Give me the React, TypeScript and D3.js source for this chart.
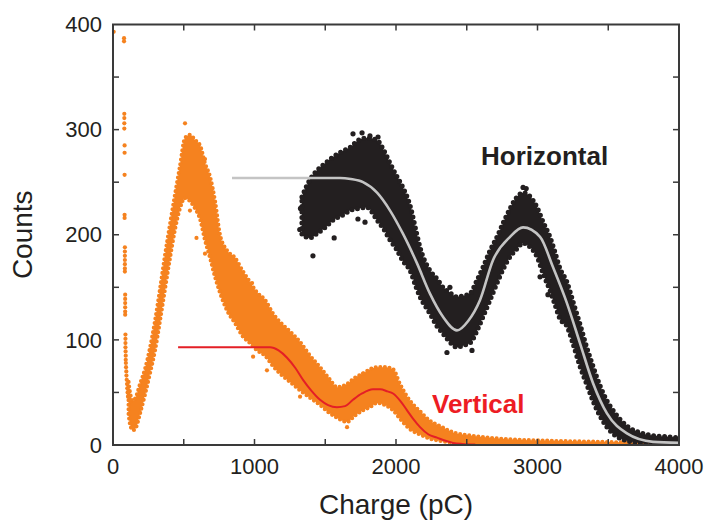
import React from 'react';
import * as d3 from 'd3';

// ---------- data ----------
// Vertical (orange) cloud: charge positions and lower / upper envelope of the scatter
const vChargeBand = [110, 120, 141, 160, 191, 226, 261, 297, 332, 367, 403, 438, 473, 509, 544, 580, 615, 650, 686, 721, 756, 806, 862, 919, 968, 1018, 1074, 1131, 1180, 1251, 1322, 1392, 1463, 1534, 1583, 1654, 1710, 1767, 1816, 1866, 1922, 1979, 2028, 2099, 2170, 2240, 2311, 2403, 2523, 2735, 3088, 3442, 3795, 4000];
const vLow = [30, 20, 14, 16, 30, 48, 68, 90, 118, 148, 178, 205, 225, 235, 232, 225, 215, 195, 178, 160, 145, 128, 116, 103, 97, 90, 85, 75, 68, 60, 52, 45, 38, 30, 26, 22, 28, 33, 36, 40, 38, 33, 25, 15, 10, 6, 4, 2, 1, 0, 0, 0, 0, 0];
const vHigh = [60, 50, 42, 45, 58, 72, 92, 118, 148, 180, 210, 238, 265, 292, 295, 290, 285, 268, 255, 232, 200, 185, 178, 165, 155, 145, 138, 125, 117, 108, 98, 85, 74, 62, 55, 58, 64, 68, 72, 74, 74, 72, 58, 42, 32, 23, 18, 12, 9, 6, 4, 3, 2, 2];
// isolated orange points (sparse column near zero charge and stray points)
const vPointCharge = [5, 78, 78, 80, 80, 80, 80, 82, 82, 82, 82, 82, 84, 84, 84, 84, 84, 84, 84, 86, 86, 86, 86, 86, 86, 88, 88, 88, 88, 89, 90, 90, 91, 92, 94, 95, 97, 99, 101, 103, 106, 509, 544, 590, 650, 650, 983, 990, 1088, 1322, 1654, 1767];
const vPointCounts = [393, 387, 384, 315, 311, 306, 301, 285, 278, 257, 219, 216, 188, 184, 180, 176, 172, 168, 165, 143, 139, 135, 131, 127, 124, 105, 101, 97, 93, 89, 85, 81, 78, 74, 70, 66, 62, 58, 54, 50, 46, 306, 223, 197, 182, 272, 154, 84, 71, 46, 17, 68];

// Horizontal (black) cloud
const hChargeBand = [1335, 1390, 1441, 1500, 1555, 1615, 1675, 1735, 1795, 1866, 1915, 1958, 2000, 2049, 2099, 2148, 2170, 2240, 2290, 2332, 2380, 2431, 2480, 2523, 2570, 2615, 2665, 2714, 2760, 2806, 2850, 2898, 2950, 2997, 3040, 3088, 3120, 3159, 3208, 3254, 3300, 3350, 3392, 3440, 3491, 3550, 3632, 3720, 3816, 3900, 4000];
const hLow = [200, 197, 201, 207, 214, 218, 223, 225, 226, 214, 205, 195, 187, 175, 166, 148, 141, 125, 113, 106, 98, 93, 95, 97, 108, 122, 138, 154, 168, 179, 186, 192, 188, 179, 163, 147, 135, 120, 113, 95, 75, 57, 42, 28, 17, 9, 4, 2, 1, 0, 0];
const hHigh = [236, 252, 261, 268, 274, 279, 283, 290, 292, 290, 280, 268, 257, 245, 228, 200, 188, 166, 158, 150, 145, 141, 142, 144, 156, 169, 185, 198, 212, 225, 235, 240, 236, 226, 212, 198, 185, 168, 155, 135, 115, 92, 75, 57, 42, 30, 18, 12, 9, 8, 7];
const hPointCharge = [1320, 1325, 1413, 1563, 1731, 1781, 1696, 1760, 1816, 1873, 2360, 2381, 2537, 2898, 2920, 3018, 3074];
const hPointCounts = [205, 225, 180, 197, 215, 212, 296, 297, 294, 293, 88, 150, 90, 245, 244, 160, 143];

// fitted curves
const vFitCharge = [460, 700, 1000, 1110, 1170, 1230, 1290, 1343, 1400, 1463, 1520, 1583, 1640, 1696, 1760, 1837, 1887, 1940, 1979, 2030, 2078, 2120, 2170, 2230, 2290, 2350, 2403, 2470, 2560];
const vFitCounts = [93, 93, 93, 93, 90, 83, 73, 62, 52, 43, 38, 36, 37, 43, 49, 53, 53, 51, 49, 42, 33, 25, 17, 10, 7, 4, 2, 1, 0.5];
const hFitCharge = [841, 1200, 1500, 1604, 1680, 1767, 1866, 1958, 2049, 2148, 2240, 2332, 2431, 2510, 2594, 2686, 2806, 2898, 3018, 3110, 3208, 3300, 3392, 3491, 3632, 3816, 4000];
const hFitCounts = [254, 254, 254, 254, 253, 250, 240, 223, 201, 173, 144, 122, 109, 118, 138, 176, 198, 207, 198, 169, 135, 97, 59, 30, 11, 3, 2];

const xTickValues = [0, 1000, 2000, 3000, 4000];
const yTickValues = [0, 100, 200, 300, 400];
const xTickLabels = ['0', '1000', '2000', '3000', '4000'];
const yTickLabels = ['0', '100', '200', '300', '400'];

// ---------- layout ----------
const W = 706;
const H = 520;
const left = 113;
const right = 679;
const top = 24.5;
const bottom = 445;

const ORANGE = '#f5821f';
const BLACK = '#231f20';
const RED = '#e41f26';
const GREY = '#c4c4c4';
const AXIS = '#3a3a3a';
const FONT = "'Liberation Sans', Arial, Helvetica, sans-serif";

export default function App() {
  const x = d3.scaleLinear().domain([0, 4000]).range([left, right]);
  const y = d3.scaleLinear().domain([0, 400]).range([bottom, top]);

  const band = (xs: number[], lo: number[], hi: number[]) =>
    d3
      .area<number>()
      .x((_, i) => x(xs[i]))
      .y0((_, i) => y(lo[i]))
      .y1((_, i) => y(hi[i]))
      .curve(d3.curveMonotoneX)(xs) as string;

  const line = (xs: number[], ys: number[]) =>
    d3
      .line<number>()
      .x((_, i) => x(xs[i]))
      .y((_, i) => y(ys[i]))
      .curve(d3.curveMonotoneX)(xs) as string;

  const vBand = band(vChargeBand, vLow, vHigh);
  const hBand = band(hChargeBand, hLow, hHigh);
  const vFit = line(vFitCharge, vFitCounts);
  const hFit = line(hFitCharge, hFitCounts);

  const xMinor = d3.range(500, 4000, 500);
  const yMinor = d3.range(50, 400, 50);
  const tickLen = 6;

  return (
    <svg
      width={W}
      height={H}
      style={{ position: 'absolute', left: 0, top: 0, background: '#fff' }}
      fontFamily={FONT}
    >
      <rect x={0} y={0} width={W} height={H} fill="#fff" />
      <defs>
        <clipPath id="plot">
          <rect x={left} y={top - 20} width={right - left} height={bottom - top + 20} />
        </clipPath>
      </defs>

      <g clipPath="url(#plot)">
        {/* vertical (orange) scatter */}
        <path d={vBand} fill={ORANGE} />
        <path
          d={vBand}
          fill="none"
          stroke={ORANGE}
          strokeWidth={4.2}
          strokeLinecap="round"
          strokeDasharray="0 4.6"
        />
        {vPointCharge.map((c, i) => (
          <circle key={'vp' + i} cx={x(c)} cy={y(vPointCounts[i])} r={2.1} fill={ORANGE} />
        ))}

        {/* horizontal (black) scatter */}
        <path d={hBand} fill={BLACK} />
        <path
          d={hBand}
          fill="none"
          stroke={BLACK}
          strokeWidth={5}
          strokeLinecap="round"
          strokeDasharray="0 5.5"
        />
        {hPointCharge.map((c, i) => (
          <circle key={'hp' + i} cx={x(c)} cy={y(hPointCounts[i])} r={2.6} fill={BLACK} />
        ))}

        {/* fits */}
        <path d={vFit} fill="none" stroke={RED} strokeWidth={2} />
        <path d={hFit} fill="none" stroke={GREY} strokeWidth={2.6} />
      </g>

      {/* frame */}
      <rect x={left} y={top} width={right - left} height={bottom - top} fill="none" stroke={AXIS} strokeWidth={2} />
      {xMinor.map((v) => (
        <g key={'xt' + v}>
          <line x1={x(v)} x2={x(v)} y1={bottom} y2={bottom - tickLen} stroke={AXIS} strokeWidth={1.5} />
          <line x1={x(v)} x2={x(v)} y1={top} y2={top + tickLen} stroke={AXIS} strokeWidth={1.5} />
        </g>
      ))}
      {yMinor.map((v) => (
        <g key={'yt' + v}>
          <line x1={left} x2={left + tickLen} y1={y(v)} y2={y(v)} stroke={AXIS} strokeWidth={1.5} />
          <line x1={right} x2={right - tickLen} y1={y(v)} y2={y(v)} stroke={AXIS} strokeWidth={1.5} />
        </g>
      ))}

      {/* tick labels */}
      {xTickValues.map((v, i) => (
        <text key={'xl' + v} x={x(v)} y={474} textAnchor="middle" fontSize={22} fill={BLACK}>
          {xTickLabels[i]}
        </text>
      ))}
      {yTickValues.map((v, i) => (
        <text key={'yl' + v} x={102} y={y(v)} dy="0.35em" textAnchor="end" fontSize={22} fill={BLACK}>
          {yTickLabels[i]}
        </text>
      ))}

      {/* axis titles */}
      <text x={(left + right) / 2} y={514} textAnchor="middle" fontSize={28} fill={BLACK}>
        Charge (pC)
      </text>
      <text
        transform={`translate(32, ${(top + bottom) / 2}) rotate(-90)`}
        textAnchor="middle"
        fontSize={28}
        fill={BLACK}
      >
        Counts
      </text>

      {/* series labels */}
      <text x={481} y={165} fontSize={26} fontWeight="bold" fill={BLACK}>
        Horizontal
      </text>
      <text x={432} y={413} fontSize={26} fontWeight="bold" fill="#ed1c24">
        Vertical
      </text>
    </svg>
  );
}
